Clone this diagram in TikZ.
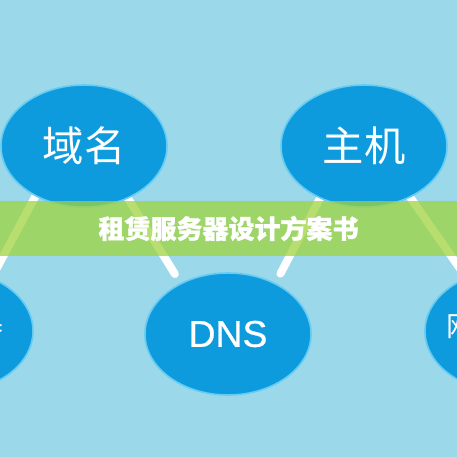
\documentclass[tikz,border=0pt]{standalone}
\usepackage{fontspec}
\setmainfont{Liberation Sans}
\newfontfamily\cjk[BoldFeatures={FakeBold=1.2}]{Noto Sans CJK SC}
\newfontfamily\dnsfont[FakeBold=0.6]{Liberation Sans}
\usetikzlibrary{shapes.geometric}
\definecolor{skyback}{RGB}{154,216,234}
\definecolor{bubblefill}{RGB}{14,155,222}
\definecolor{bubbleedge}{RGB}{100,204,242}
\definecolor{bandgreen}{RGB}{160,212,62}
\pgfdeclarelayer{links}
\pgfsetlayers{links,main}

\begin{document}
\begin{tikzpicture}[x=0.75pt,y=0.75pt,yscale=-1,xscale=1,
  bubble/.style={ellipse,fill=bubblefill,draw=bubbleedge,line width=1.2pt,
    minimum width=124.5pt,minimum height=91.5pt,inner sep=0pt,text=white,
    font=\cjk\fontsize{31}{31}\selectfont},
  sidetext/.style={inner sep=0pt,text=white,font=\cjk\fontsize{21}{21}\selectfont},
  link/.style={draw=white,line width=6pt,line cap=round},
  band/.style={fill=bandgreen,fill opacity=0.75,text opacity=1,inner sep=0pt,
    minimum width=342.75pt,minimum height=41.25pt,text=white,
    font=\cjk\bfseries\fontsize{19.5}{20}\selectfont}]
\useasboundingbox (0,0) rectangle (457,457);
\begin{pgfonlayer}{links}
\fill[skyback] (0,0) rectangle (457,457);
\end{pgfonlayer}
\clip (0,0) rectangle (457,457);

% Ellipses
\node[bubble] (domain) at (84,146) {域名};
\node[bubble] (host) at (364,146) {主机};
\node[bubble,font=\dnsfont\fontsize{28}{28}\selectfont] (dns) at (228,334) {DNS};
\node[bubble] (server) at (-50,331) {};
\node[bubble] (web) at (508,331) {};
% Text Node
\node[sidetext,anchor=east] (serverlabel) at (4,326) {服务器};
\node[sidetext,anchor=west] (weblabel) at (446,326) {网站};

%Straight Lines
\begin{pgfonlayer}{links}
\draw[link,shorten >=8pt] (domain.-50) -- (dns.133);
\draw[link,shorten >=8pt] (host.-130) -- (dns.47);
\draw[link,shorten >=8pt] (domain.-134) -- (server.52);
\draw[link,shorten >=8pt] (host.-48) -- (web.128);
\end{pgfonlayer}

% Title band
\node[band] (title) at (228.5,228.5) {租赁服务器设计方案书};

\end{tikzpicture}
\end{document}
